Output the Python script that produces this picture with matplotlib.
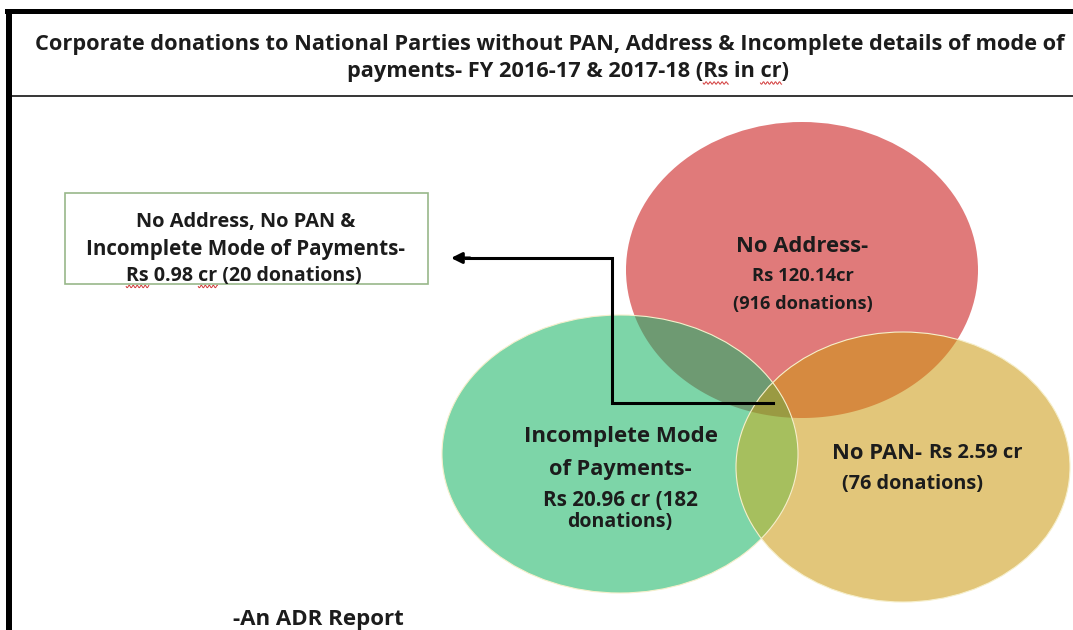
import numpy as np
import matplotlib
matplotlib.use("Agg")
import matplotlib.pyplot as plt
from matplotlib.patches import Ellipse, Polygon, Rectangle

W, H = 1073, 630
FONT = "Open Sans"
INK = "#1c1c1c"

# ---- data ----
sets = ["No Address", "Incomplete Mode of Payments", "No PAN"]
amounts = [120.14, 20.96, 2.59]          # Rs cr
donations = [916, 182, 76]
all_three_amount = 0.98
all_three_donations = 20

fig = plt.figure(figsize=(W / 100, H / 100), dpi=100)
ax = fig.add_axes([0, 0, 1, 1])
ax.set_xlim(0, W); ax.set_ylim(H, 0); ax.axis("off")
renderer = fig.canvas.get_renderer()

# ---- venn ellipses (pixel geometry) ----
geo = {"red": (802, 270, 176, 148), "green": (620, 454, 178, 139), "yellow": (903, 467, 167, 135)}
base = {"red": "#E07A7A", "green": "#7DD5A8", "yellow": "#E2C67A"}
for k in ["red", "green", "yellow"]:
    cx, cy, rx, ry = geo[k]
    ax.add_patch(Ellipse((cx, cy), 2 * rx, 2 * ry, fc=base[k], ec="none", zorder=1))


def inside(px, py, k):
    cx, cy, rx, ry = geo[k]
    return ((px - cx) / rx) ** 2 + ((py - cy) / ry) ** 2 <= 1.0 + 1e-9


def overlap(keys, color):
    pts = []
    t = np.linspace(0, 2 * np.pi, 3000, endpoint=False)
    for k in keys:
        cx, cy, rx, ry = geo[k]
        px, py = cx + rx * np.cos(t), cy + ry * np.sin(t)
        m = np.ones_like(px, bool)
        for o in keys:
            if o != k:
                m &= inside(px, py, o)
        pts.append(np.column_stack([px[m], py[m]]))
    pts = np.vstack(pts)
    c = pts.mean(axis=0)
    order = np.argsort(np.arctan2(pts[:, 1] - c[1], pts[:, 0] - c[0]))
    ax.add_patch(Polygon(pts[order], closed=True, fc=color, ec="none", zorder=2))


overlap(["red", "green"], "#6E9A72")
overlap(["red", "yellow"], "#D68A40")
overlap(["green", "yellow"], "#A6BF5E")
overlap(["red", "green", "yellow"], "#9A9A42")
for k in ["green", "yellow"]:
    cx, cy, rx, ry = geo[k]
    ax.add_patch(Ellipse((cx, cy), 2 * rx, 2 * ry, fc="none", ec="#F6EFCB", lw=0.8, zorder=3))


# ---- text helpers ----
def fit(x, y, s, width, ha="center", weight="bold", color=INK, z=6):
    t = ax.text(x, y, s, ha=ha, va="center_baseline", fontsize=12, family=FONT,
                fontweight=weight, color=color, zorder=z)
    w = t.get_window_extent(renderer).width
    t.set_fontsize(12 * width / w)
    return t


def sub_span(t, s, start, end):
    """x-range (data) of s[start:end] inside text t."""
    bb = t.get_window_extent(renderer)
    def wid(sub):
        tmp = ax.text(0, 0, sub, fontsize=t.get_fontsize(), family=FONT, fontweight=t.get_fontweight())
        w = tmp.get_window_extent(renderer).width
        tmp.remove()
        return w
    x0 = bb.x0
    return x0 + wid(s[:start]), x0 + wid(s[:end]), H - bb.y0


def squiggle(a, b, y):
    xs = np.linspace(a, b, 60)
    ax.plot(xs, y + 1.2 * np.sin(2 * np.pi * (xs - a) / 4.0), color="#D23A3A", lw=0.7, zorder=7)


# ---- frame ----
ax.add_patch(Rectangle((5, 9), W - 5, 5, fc="black", ec="none", zorder=8))
ax.add_patch(Rectangle((6, 9), 6, H - 9, fc="black", ec="none", zorder=8))
ax.add_patch(Rectangle((12, 95), W - 12, 2, fc="#3a3a3a", ec="none", zorder=8))

# ---- title ----
title1 = "Corporate donations to National Parties without PAN, Address & Incomplete details of mode of"
title2 = "payments- FY 2016-17 & 2017-18 (Rs in cr)"
t1 = fit(550, 42, title1, 1030)
t2 = ax.text(568, 69, title2, ha="center", va="center_baseline", fontsize=t1.get_fontsize(),
             family=FONT, fontweight="bold", color=INK, zorder=6)
for a, b in [(title2.index("Rs"), title2.index("Rs") + 2), (title2.index("cr"), title2.index("cr") + 2)]:
    x0, x1, yb = sub_span(t2, title2, a, b)
    squiggle(x0, x1, yb + 1)

# ---- callout box (all three) ----
ax.add_patch(Rectangle((65, 193), 363, 91, fc="white", ec="#98B88A", lw=1.2, zorder=5))
fit(246, 220, "No Address, No PAN &", 220)
fit(246, 247, "Incomplete Mode of Payments-", 320)
box3 = f"Rs {all_three_amount:.2f} cr ({all_three_donations} donations)"
tb = fit(244, 273, box3, 235)
for a, b in [(0, 2), (box3.index("cr"), box3.index("cr") + 2)]:
    x0, x1, yb = sub_span(tb, box3, a, b)
    squiggle(x0, x1, yb + 1)

# ---- connector arrow ----
ax.plot([773, 612, 612, 466], [403, 403, 258, 258], color="black", lw=2.2,
        solid_joinstyle="miter", zorder=6)
ax.annotate("", xy=(451, 258), xytext=(470, 258),
            arrowprops=dict(arrowstyle="-|>", color="black", lw=2.2, mutation_scale=16,
                            shrinkA=0, shrinkB=0), zorder=6)

# ---- set labels ----
fit(802, 244, f"{sets[0]}-", 131)
fit(803, 274, f"Rs {amounts[0]:.2f}cr", 101)
fit(803, 302, f"({donations[0]} donations)", 139)

fit(621, 434, "Incomplete Mode", 193)
fit(620, 467, "of Payments-", 142)
fit(620, 498, f"Rs {amounts[1]:.2f} cr ({donations[1]}", 154)
fit(620, 520, "donations)", 105)

fit(832, 451, f"{sets[2]}-", 90, ha="left")
fit(929, 451, f"Rs {amounts[2]:.2f} cr", 93, ha="left")
fit(912, 482, f"({donations[2]} donations)", 141)

fit(318, 617, "-An ADR Report", 170)

fig.savefig("out.png", dpi=100, facecolor="white")
